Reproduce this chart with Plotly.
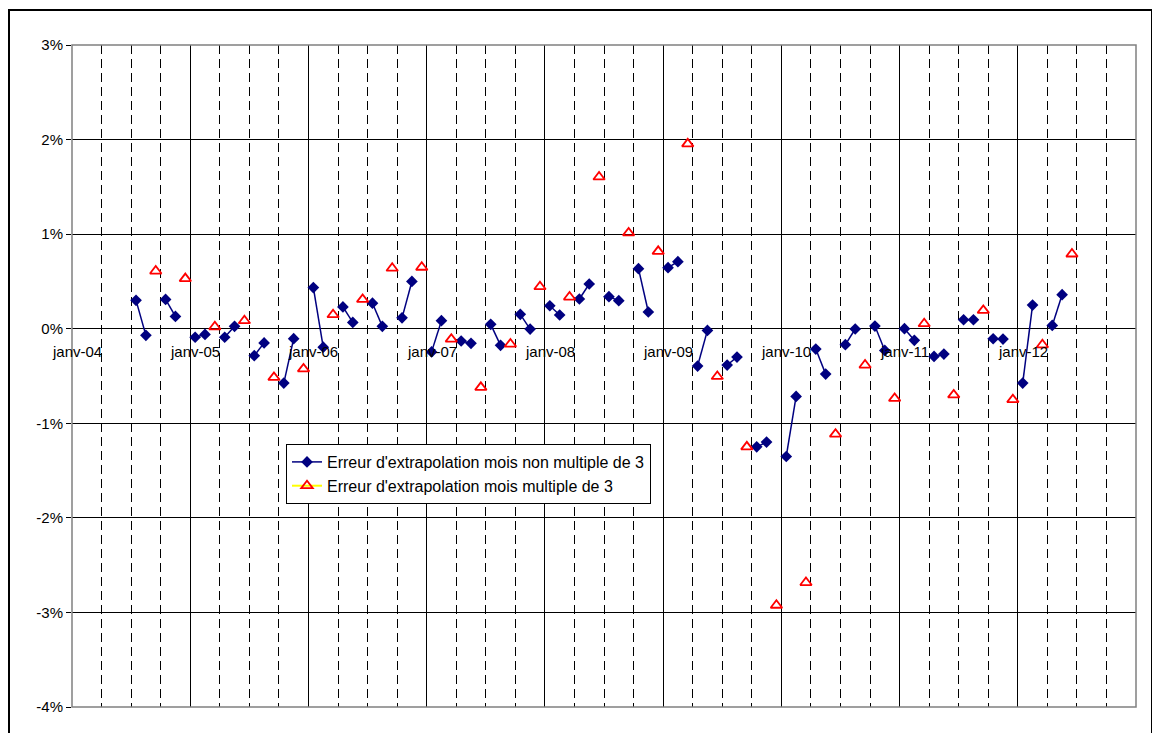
import plotly.graph_objects as go

# ---- Data (monthly extrapolation error, in %) from juil-2004 to juin-2012 ----
debut_annee = 2004          # axis starts at janv-04
premier_mois = 7            # first value is July 2004
nb_mois_axe = 108           # janv-04 .. janv-13

erreur = [
    # 2004 (Jul..Dec)
    0.30, -0.07, 0.61, 0.31, 0.13, 0.53,
    # 2005
    -0.09, -0.06, 0.02, -0.09, 0.025, 0.085, -0.285, -0.15, -0.515, -0.575, -0.105, -0.425,
    # 2006
    0.435, -0.195, 0.148, 0.23, 0.067, 0.31, 0.27, 0.025, 0.64, 0.115, 0.50, 0.65,
    # 2007
    -0.245, 0.085, -0.11, -0.13, -0.155, -0.62, 0.046, -0.176, -0.162, 0.152, -0.004, 0.444,
    # 2008
    0.243, 0.145, 0.335, 0.314, 0.473, 1.605, 0.339, 0.296, 1.013, 0.635, 0.177, 0.818,
    # 2009
    0.645, 0.709, 1.955, -0.395, -0.018, -0.505, -0.384, -0.30, -1.249, -1.249, -1.199, -2.924,
    # 2010
    -1.351, -0.716, -2.684, -0.215, -0.48, -1.115, -0.169, -0.003, -0.384, 0.028, -0.23, -0.737,
    # 2011
    0.0, -0.123, 0.053, -0.293, -0.268, -0.70, 0.095, 0.095, 0.194, -0.106, -0.11, -0.75,
    # 2012 (Jan..Jun)
    -0.575, 0.25, -0.17, 0.035, 0.36, 0.79,
]

etiquettes_x = ["janv-04", "janv-05", "janv-06", "janv-07", "janv-08",
                "janv-09", "janv-10", "janv-11", "janv-12"]
valeurs_y = [-4, -3, -2, -1, 0, 1, 2, 3]
etiquettes_y = ["-4%", "-3%", "-2%", "-1%", "0%", "1%", "2%", "3%"]

nom_serie1 = "Erreur d'extrapolation mois non multiple de 3"
nom_serie2 = "Erreur d'extrapolation mois multiple de 3"

# ---- split into the two series (months since janv-04, centred in month) ----
x_mois, y_non_mult, y_mult = [], [], []
for i, v in enumerate(erreur):
    m = (premier_mois - 1) + i
    x_mois.append(m + 0.5)
    mois_cal = m % 12 + 1
    if mois_cal % 3 == 0:
        y_mult.append(v)
        y_non_mult.append(None)
    else:
        y_mult.append(None)
        y_non_mult.append(v)

FONT = "Arial, Liberation Sans, sans-serif"

fig = go.Figure()
fig.add_trace(go.Scatter(
    x=x_mois, y=y_non_mult, name=nom_serie1, mode="lines+markers",
    connectgaps=False,
    line=dict(color="#000080", width=1.5),
    marker=dict(symbol="diamond", size=9, color="#000080"),
))
fig.add_trace(go.Scatter(
    x=x_mois, y=y_mult, name=nom_serie2, mode="lines+markers",
    connectgaps=False,
    line=dict(color="#FFFF00", width=2),
    marker=dict(symbol="triangle-up-open", size=10, color="#FF0000",
                line=dict(color="#FF0000", width=1.8)),
))

# x labels placed next to the 0% axis line
for k, lab in enumerate(etiquettes_x):
    fig.add_annotation(x=12 * k + 0.5, y=0, xref="x", yref="y", text=lab,
                       showarrow=False, xanchor="center", yanchor="middle",
                       yshift=-23, font=dict(family=FONT, size=15, color="black"))

# page has an 8px body margin -> figure is 1152x725, offset by 8px
W, H = 1152, 725
L, R, T, B = 64, 24, 37, 26
pw, ph = W - L - R, H - T - B

fig.update_layout(
    width=W, height=H,
    margin=dict(l=L, r=R, t=T, b=B),
    paper_bgcolor="white", plot_bgcolor="white",
    font=dict(family=FONT, size=15, color="black"),
    showlegend=True,
    legend=dict(
        x=(278 - L) / pw, y=(H - B - 436) / ph, xanchor="left", yanchor="top",
        bgcolor="white", bordercolor="black", borderwidth=1,
        font=dict(family=FONT, size=16, color="black"),
        tracegroupgap=0,
    ),
    xaxis=dict(
        range=[0, nb_mois_axe], tick0=0, dtick=12,
        showticklabels=False, ticks="",
        showgrid=True, gridcolor="black", gridwidth=1,
        zeroline=False, showline=False,
        minor=dict(tick0=0, dtick=3, showgrid=True, gridcolor="black",
                   gridwidth=1, griddash="9px,5px", ticks=""),
    ),
    yaxis=dict(
        range=[-4, 3], tickvals=valeurs_y, ticktext=etiquettes_y,
        ticks="outside", ticklen=5, tickcolor="black", tickwidth=1,
        showgrid=True, gridcolor="black", gridwidth=1,
        zeroline=False, showline=False,
        tickfont=dict(family=FONT, size=15, color="black"),
    ),
)

# plot-area border (grey) and outer chart frame (black)
fig.add_shape(type="rect", xref="paper", yref="paper", x0=0, x1=1, y0=0, y1=1,
              line=dict(color="#808080", width=1.5), layer="above")
fig.add_shape(type="rect", xref="paper", yref="paper",
              x0=(1 - L) / pw, x1=(1144 - L) / pw,
              y0=(H - B - 740) / ph, y1=(H - B - 2) / ph,
              line=dict(color="black", width=2), layer="above")

fig.write_html("out.html")
